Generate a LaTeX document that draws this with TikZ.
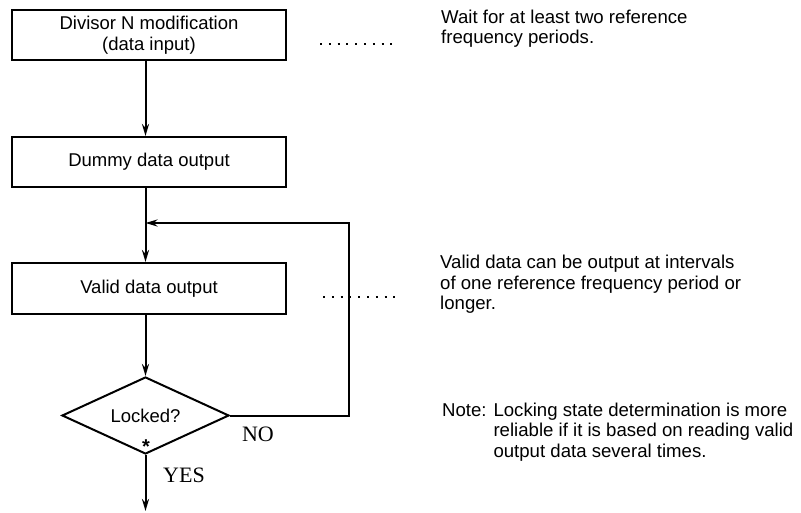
\documentclass[tikz,border=0pt]{standalone}
\usepackage{fontspec}
\setmainfont{Liberation Sans}
\newfontfamily\serifnf{Liberation Serif}
\usetikzlibrary{arrows.meta,shapes.geometric,calc}
\begin{document}
\begin{tikzpicture}[x=1pt,y=-1pt,
  box/.style={draw,line width=2pt,minimum width=274pt,minimum height=50pt,inner sep=0pt,align=center,font=\fontsize{18.5}{21}\selectfont},
  decision/.style={draw,diamond,line width=2pt,minimum width=167pt,minimum height=77pt,inner sep=0pt,shape aspect=2.17,font=\fontsize{18.5}{21}\selectfont},
  arr/.style={line width=2pt,-{Stealth[length=12pt,width=7pt]}},
  lead/.style={line width=2pt,dash pattern=on 2pt off 6.8pt},
  note/.style={anchor=north west,inner sep=0pt,align=left,font=\fontsize{18.6}{20.5}\selectfont},
  lbl/.style={inner sep=0pt,font=\serifnf\fontsize{22}{22}\selectfont}]
\useasboundingbox (0,0) rectangle (801,513);
\node[box] (b1) at (149,35) {Divisor N modification\\(data input)};
\node[box] (b2) at (149,162) {Dummy data output};
\node[box,minimum height=51pt] (b3) at (149,288.5) {Valid data output};
\node[decision] (d) at (145.5,415.5) {Locked?};
\node[inner sep=0pt,font=\fontsize{20}{20}\selectfont\bfseries] (star) at (146,447) {*};
\coordinate (j) at (145.5,223);
\coordinate (c) at (349,415.5);
\coordinate (e) at (145.5,511);
\draw[arr] (b1.south -| d.north) -- (b2.north -| d.north);
\draw[arr] (b2.south -| d.north) -- (b3.north -| d.north);
\draw[arr] (b3.south -| d.north) -- (d.north);
\draw[arr] (d.east) -- (c) |- (j);
\draw[arr] (d.south) -- (e);
\node[lbl] (no) at (258,434) {NO};
\node[lbl] (yes) at (184,475) {YES};
\node[note] (t1) at (441,9.5) {Wait for at least two reference\\frequency periods.};
\node[note] (t2) at (440,255) {Valid data can be output at intervals\\of one reference frequency period or\\longer.};
\node[note] (t3) at (442,402.5) {Note: Locking state determination is more\\\hphantom{Note: }reliable if it is based on reading valid\\\hphantom{Note: }output data several times.};
\draw[lead] (320,44) -- (395,44);
\draw[lead] (323,297) -- (399,297);
\end{tikzpicture}
\end{document}
